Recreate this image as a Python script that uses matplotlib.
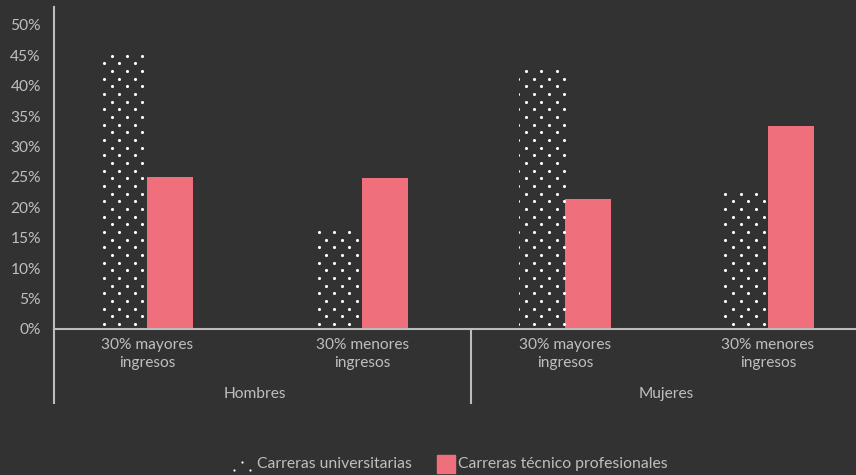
import numpy as np
import matplotlib
matplotlib.use("Agg")
import matplotlib.pyplot as plt
from matplotlib.patches import Rectangle
from matplotlib.transforms import blended_transform_factory

# ---- data -------------------------------------------------------------
groups = ["Hombres", "Mujeres"]
categories = ["30% mayores\ningresos", "30% menores\ningresos",
              "30% mayores\ningresos", "30% menores\ningresos"]
universitarias = [45.3, 16.3, 43.0, 22.6]
tecnico = [25.0, 24.8, 21.4, 33.4]
yticks = [0, 5, 10, 15, 20, 25, 30, 35, 40, 45, 50]
series_names = ["Carreras universitarias", "Carreras técnico profesionales"]

# ---- style ------------------------------------------------------------
BG = "#323232"
PINK = "#EF6F7C"
TXT = "#BFBFBF"
LINE = "#BDBDBD"
FONT = "Lato"
W, H, DPI = 856, 475, 100

plt.rcParams["font.family"] = [FONT, "DejaVu Sans"]

fig = plt.figure(figsize=(W / DPI, H / DPI), dpi=DPI, facecolor=BG)
ax = fig.add_axes([54 / W, 146 / H, 802 / W, 322 / H], facecolor=BG)

pos = np.array([0.0, 1.04, 2.02, 3.0])   # category centres
bw = 0.222                               # bar width

ax.set_xlim(-0.449, 3.425)
ax.set_ylim(0, 52.96)

univ_bars = ax.bar(pos - bw / 2, universitarias, width=bw, color=BG,
                   edgecolor="none", zorder=2)
ax.bar(pos + bw / 2, tecnico, width=bw, color=PINK, edgecolor="none", zorder=2)

# dotted fill for the university bars: staggered lattice in pixel space
SP = 7.67
X0, Y0 = 104.0, H - 55.7


def lattice(x0, x1, y0, y1):
    """Staggered dot centres (display px) inside a pixel box."""
    j0 = int(np.floor((x0 - X0) / SP)) - 1
    j1 = int(np.ceil((x1 - X0) / SP)) + 1
    i0 = int(np.floor((Y0 - y1) / SP)) - 1
    i1 = int(np.ceil((Y0 - y0) / SP)) + 1
    pts = []
    for i in range(i0, i1 + 1):
        for j in range(j0, j1 + 1):
            if (i + j) % 2 == 1:
                x, y = X0 + j * SP, Y0 - i * SP
                if x0 - 2 <= x <= x1 + 2 and y0 - 2 <= y <= y1 + 2:
                    pts.append((x, y))
    return np.array(pts)


inv = ax.transData.inverted()
for bar in univ_bars:
    (bx0, by0), (bx1, by1) = ax.transData.transform(
        [(bar.get_x(), 0), (bar.get_x() + bar.get_width(), bar.get_height())])
    pts = lattice(bx0, bx1, by0, by1)
    d = inv.transform(pts)
    sc = ax.scatter(d[:, 0], d[:, 1], s=5, c="white", linewidths=0, zorder=3)
    sc.set_clip_path(bar)

# axes styling
for side in ("top", "right"):
    ax.spines[side].set_visible(False)
for side in ("left", "bottom"):
    ax.spines[side].set_color(LINE)
    ax.spines[side].set_linewidth(1.5)
    ax.spines[side].set_zorder(4)

FS = 11.2
ax.set_yticks(yticks)
ax.set_yticklabels([f"{v}%" for v in yticks])
ax.tick_params(axis="y", length=0, pad=9.5, labelsize=FS, labelcolor=TXT)

ax.set_xticks(pos)
ax.set_xticklabels(categories, linespacing=1.32)
ax.tick_params(axis="x", length=0, pad=6.5, labelsize=FS, labelcolor=TXT)

# group level of the category axis
bt = blended_transform_factory(ax.transData, ax.transAxes)
low = -75 / 322
ax.plot([-0.449, -0.449], [0, low], transform=bt, color=LINE, lw=1.5,
        clip_on=False, solid_capstyle="butt")
ax.plot([1.565, 1.565], [0, low], transform=bt, color=LINE, lw=1.5,
        clip_on=False, solid_capstyle="butt")
for k, g in enumerate(groups):
    gx = pos[2 * k:2 * k + 2].mean()
    ax.text(gx, -65 / 322, g, transform=bt, ha="center", va="center",
            fontsize=FS, color=TXT)

# legend along the bottom
ly = H - 464
sq = 18
fig.patches.append(Rectangle((437, ly - sq / 2), sq, sq, color=PINK,
                             transform=None, figure=fig))
lp = lattice(232, 232 + sq, ly - sq / 2, ly + sq / 2)
lp = lp[(lp[:, 0] >= 232) & (lp[:, 0] <= 232 + sq) &
        (lp[:, 1] >= ly - sq / 2) & (lp[:, 1] <= ly + sq / 2)]
fp = fig.transFigure.inverted().transform(lp)
fig.add_artist(plt.Line2D(fp[:, 0], fp[:, 1], ls="none", marker="o",
                          ms=1.6, mec="none", mfc="white",
                          transform=fig.transFigure))
fig.text(257 / W, ly / H, series_names[0], ha="left", va="center",
         fontsize=11.3, color=TXT)
fig.text(458 / W, ly / H, series_names[1], ha="left", va="center",
         fontsize=11.3, color=TXT)

fig.savefig("out.png", dpi=DPI, facecolor=BG)
